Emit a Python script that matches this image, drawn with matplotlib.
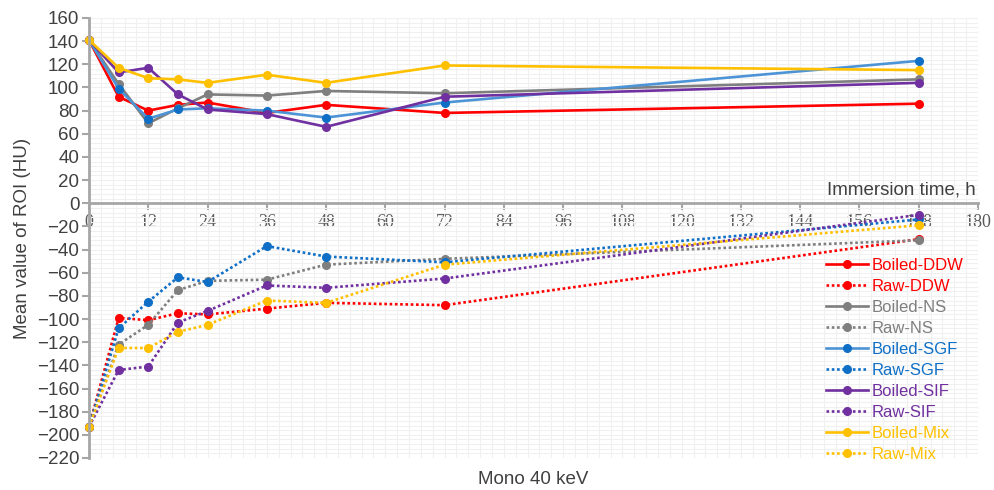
import matplotlib
matplotlib.use("Agg")
import matplotlib.pyplot as plt
from matplotlib.ticker import MultipleLocator

# immersion time points (h)
hours = [0, 6, 12, 18, 24, 36, 48, 72, 168]

# mean ROI values (HU)
boiled_ddw = [141, 92, 80, 85, 87, 78, 85, 78, 86]
raw_ddw = [-193, -99, -101, -95, -96, -91, -86, -88, -31]
boiled_ns = [141, 103, 69, 82, 94, 93, 97, 95, 107]
raw_ns = [-193, -122, -105, -75, -67, -66, -53, -48, -32]
boiled_sgf = [141, 99, 73, 81, 82, 80, 74, 87, 123]
raw_sgf = [-193, -108, -85, -64, -68, -37, -46, -51, -14]
boiled_sif = [141, 113, 117, 94, 81, 77, 66, 92, 104]
raw_sif = [-193, -144, -141, -103, -93, -71, -73, -65, -10]
boiled_mix = [141, 117, 108, 107, 104, 111, 104, 119, 115]
raw_mix = [-193, -125, -125, -111, -105, -84, -86, -53, -19]

series = [
    ("Boiled-DDW", boiled_ddw, "#FF0000", "#FF0000", "-"),
    ("Raw-DDW", raw_ddw, "#FF0000", "#FF0000", ":"),
    ("Boiled-NS", boiled_ns, "#7F7F7F", "#7F7F7F", "-"),
    ("Raw-NS", raw_ns, "#7F7F7F", "#7F7F7F", ":"),
    ("Boiled-SGF", boiled_sgf, "#4D94D6", "#0F6FC6", "-"),
    ("Raw-SGF", raw_sgf, "#0F6FC6", "#0F6FC6", ":"),
    ("Boiled-SIF", boiled_sif, "#7030A0", "#7030A0", "-"),
    ("Raw-SIF", raw_sif, "#7030A0", "#7030A0", ":"),
    ("Boiled-Mix", boiled_mix, "#FFC000", "#FFC000", "-"),
    ("Raw-Mix", raw_mix, "#FFC000", "#FFC000", ":"),
]

plt.rcParams["font.family"] = ["Liberation Sans", "DejaVu Sans"]

fig = plt.figure(figsize=(9.94, 4.90), dpi=100)
ax = fig.add_axes([89 / 994, 1 - 458 / 490, 889 / 994, 440 / 490])

for name, vals, lc, mc, ls in series:
    style = "-" if ls == "-" else (0, (1, 1))
    ax.plot(hours, vals, linestyle=style, color=lc, lw=1.9, marker="o",
            ms=5.5, markerfacecolor=mc, markeredgecolor=mc, label=name,
            clip_on=False)

ax.set_xlim(0, 180)
ax.set_ylim(-220, 160)
ax.xaxis.set_major_locator(MultipleLocator(12))
ax.xaxis.set_minor_locator(MultipleLocator(2.4))
ax.yaxis.set_major_locator(MultipleLocator(20))
ax.yaxis.set_minor_locator(MultipleLocator(4))

ax.grid(which="both", color="#F0F0F0", lw=0.8)
ax.set_axisbelow(True)

for s in ("top", "right"):
    ax.spines[s].set_visible(False)
ax.spines["bottom"].set_position(("data", 0))
for s in ("left", "bottom"):
    ax.spines[s].set_color("#A6A6A6")
    ax.spines[s].set_linewidth(2)

ax.tick_params(axis="both", which="minor", length=0)
ax.tick_params(axis="y", which="major", length=5, width=1.5, color="#A6A6A6",
               labelsize=13.5, labelcolor="#404040", pad=2)
ax.tick_params(axis="x", which="major", length=5, width=1.5, color="#A6A6A6",
               labelsize=13, labelcolor="#595959", pad=3)
for lbl in ax.get_xticklabels():
    lbl.set_fontfamily("Liberation Serif")

ax.text(179.5, 4, "Immersion time, h", ha="right", va="bottom",
        fontsize=13.5, color="#404040")
ax.set_ylabel("Mean value of ROI (HU)", fontsize=13.5, color="#404040",
              labelpad=4)
fig.text(533 / 994, 1 - 479 / 490, "Mono 40 keV", ha="center", va="center",
         fontsize=13.5, color="#404040")

leg = ax.legend(loc="upper left", bbox_to_anchor=(0.829, 0.455), frameon=False,
                fontsize=12, numpoints=1, handlelength=2.5,
                handletextpad=0.25, labelspacing=0.36, borderpad=0,
                borderaxespad=0)
for txt, (_, _, lc, mc, _) in zip(leg.get_texts(), series):
    txt.set_color(mc)

fig.savefig("out.png", dpi=100)
